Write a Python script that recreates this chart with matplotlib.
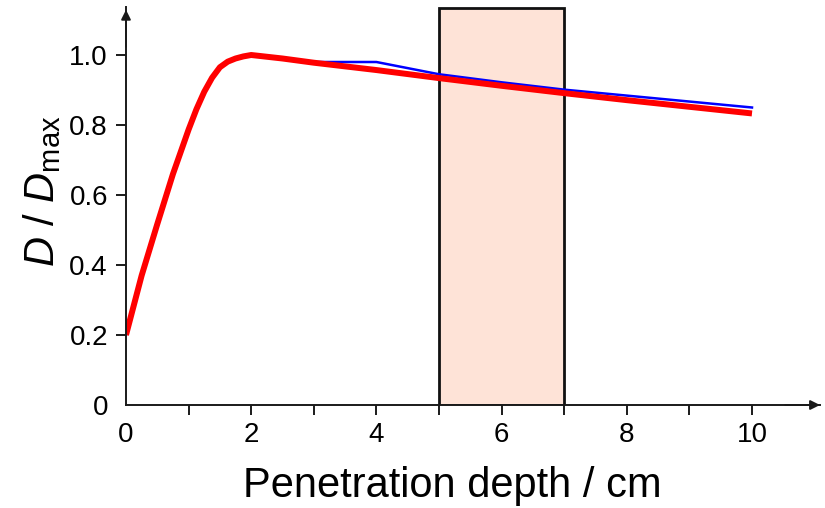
import numpy as np
import matplotlib.pyplot as plt
from matplotlib.patches import Rectangle

plt.rcParams['font.family'] = ['Liberation Sans', 'DejaVu Sans']
plt.rcParams['mathtext.fontset'] = 'custom'
plt.rcParams['mathtext.rm'] = 'Liberation Sans'
plt.rcParams['mathtext.it'] = 'Liberation Sans:italic'

# depth (cm) and relative dose
depth = [0, 0.25, 0.5, 0.75, 1.0, 1.125, 1.25, 1.375, 1.5, 1.625, 1.75, 1.875, 2.0, 2.5, 3.0,
         4.0, 5.0, 6.0, 7.0, 8.0, 9.0, 10.0]
dose_red = [0.2, 0.37, 0.517, 0.66, 0.787, 0.845, 0.895, 0.935, 0.965, 0.981, 0.99, 0.996,
            1.0, 0.99, 0.978, 0.957, 0.934, 0.912, 0.891, 0.871, 0.852, 0.833]
dose_blue = [0.2, 0.37, 0.518, 0.662, 0.792, 0.851, 0.9, 0.938, 0.966, 0.981, 0.99, 0.996,
             1.0, 0.99, 0.98, 0.98, 0.945, 0.922, 0.901, 0.884, 0.867, 0.85]
band = (5, 7)  # highlighted depth range
xticks = [0, 2, 4, 6, 8, 10]
yticks = [0, 0.2, 0.4, 0.6, 0.8, 1.0]
ytick_labels = ['0', '0.2', '0.4', '0.6', '0.8', '1.0']

axc = '#1a1a1a'
fig = plt.figure(figsize=(8.25, 5.08), dpi=100)
ax = fig.add_axes([126 / 825, 103 / 508, 694 / 825, 398 / 508])
ax.set_xlim(0, 694 / 62.6)
ax.set_ylim(0, 398 / 350)

ax.add_patch(Rectangle((band[0], 0), band[1] - band[0], 1.135, facecolor='#fee3d7',
                       edgecolor='#111111', lw=2, zorder=1))
ax.plot(depth, dose_blue, color='#0000ff', lw=1.8, zorder=3)
ax.plot(depth, dose_red, color='#ff0000', lw=4.3, solid_capstyle='butt',
        solid_joinstyle='round', zorder=4)

for s in ['top', 'right']:
    ax.spines[s].set_visible(False)
for s in ['left', 'bottom']:
    ax.spines[s].set_color(axc)
    ax.spines[s].set_linewidth(1.4)
    ax.spines[s].set_zorder(5)

ax.annotate('', xy=(0, 0.993), xytext=(0, 0.9), xycoords='axes fraction',
            arrowprops=dict(arrowstyle='-|>', color=axc, lw=1.4, shrinkA=0, shrinkB=0,
                            mutation_scale=14))
ax.annotate('', xy=(1.0, 0), xytext=(0.95, 0), xycoords='axes fraction',
            arrowprops=dict(arrowstyle='-|>', color=axc, lw=1.4, shrinkA=0, shrinkB=0,
                            mutation_scale=14))

ax.set_xticks(xticks)
ax.set_xticks([1, 3, 5, 7, 9], minor=True)
ax.set_yticks(yticks)
ax.set_yticklabels(ytick_labels)
ax.tick_params(axis='both', which='both', direction='out', length=7, width=1.4,
               color=axc, labelsize=20, labelcolor='black')
ax.tick_params(axis='x', which='both', pad=5)
ax.tick_params(axis='y', pad=6)
ax.xaxis.get_major_ticks()[0].tick1line.set_visible(False)
ax.yaxis.get_major_ticks()[0].tick1line.set_visible(False)

fig.text(452 / 825, 11 / 508, 'Penetration depth / cm', fontsize=30, ha='center', va='baseline')
fig.text(42 / 825, (508 - 191) / 508, r'$D$ / $D_{\rm max}$', fontsize=30, rotation=90,
         ha='center', va='center')

fig.savefig('out.png', dpi=100)
